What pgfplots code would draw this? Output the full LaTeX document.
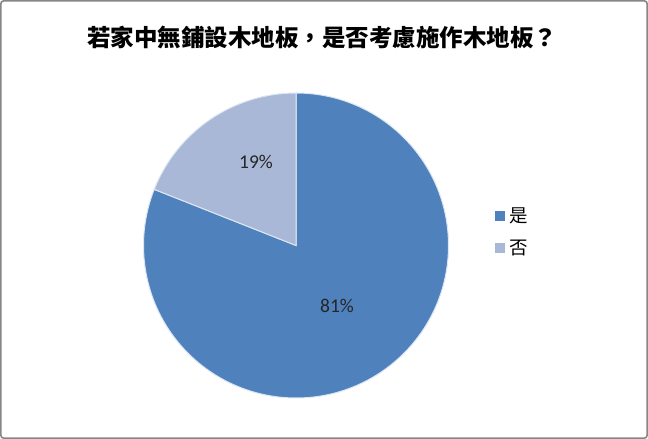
\documentclass[border=0pt]{standalone}
\usepackage{pgfplots}
\pgfplotsset{compat=1.18}
\usepackage{fontspec}
\setmainfont{Noto Sans CJK TC}
\newfontfamily\numfont{Carlito}

\definecolor{sliceA}{HTML}{4F81BD}
\definecolor{sliceB}{HTML}{A9B8D6}
\definecolor{frame}{HTML}{868686}

% share of each answer, in percent
\def\valA{81}
\def\valB{19}

\begin{document}
\begin{tikzpicture}
\begin{axis}[
    scale only axis,
    width=648pt, height=439pt,
    xmin=0, xmax=648, ymin=0, ymax=439,
    hide axis,
    clip=false,
    legend style={
        at={(axis cs:492,207.5)}, anchor=west,
        draw=none, fill=none,
        font=\fontsize{18.5}{18.5}\selectfont,
        row sep=12pt,
        cells={anchor=west},
        /tikz/every odd column/.append style={column sep=3pt},
    },
    legend image code/.code={
        \fill[#1] (0pt,-4.5pt) rectangle (9pt,4.5pt);
    },
]
\pgfmathsetmacro\angA{360/(\valA+\valB)*\valA}
\pgfmathsetmacro\endA{90-\angA}
% frame
\draw[frame, line width=1.6pt, rounded corners=3pt]
    (axis cs:0.8,0.8) rectangle (axis cs:647.2,438.2);
% slices
\filldraw[fill=sliceA, draw=white!80!sliceA, line width=1pt]
    (axis cs:296,193.5) -- (axis cs:296,346) arc[start angle=90, end angle=\endA, radius=152.5pt] -- cycle;
\filldraw[fill=sliceB, draw=white!80!sliceA, line width=1pt]
    (axis cs:296,193.5) -- (axis cs:296,346) arc[start angle=90, end angle=\endA+360, radius=152.5pt] -- cycle;
% labels
\node[font=\numfont\fontsize{19.5}{19.5}\selectfont, text=black!85] at (axis cs:256,277) {\valB\%};
\node[font=\numfont\fontsize{19.5}{19.5}\selectfont, text=black!85] at (axis cs:337,133) {\valA\%};
\node[font=\bfseries\fontsize{23.5}{23.5}\selectfont] at (axis cs:322,402)
    {若家中無鋪設木地板，是否考慮施作木地板？};
\addlegendimage{sliceA}
\addlegendimage{sliceB}
\legend{是, 否}
\end{axis}
\end{tikzpicture}
\end{document}
